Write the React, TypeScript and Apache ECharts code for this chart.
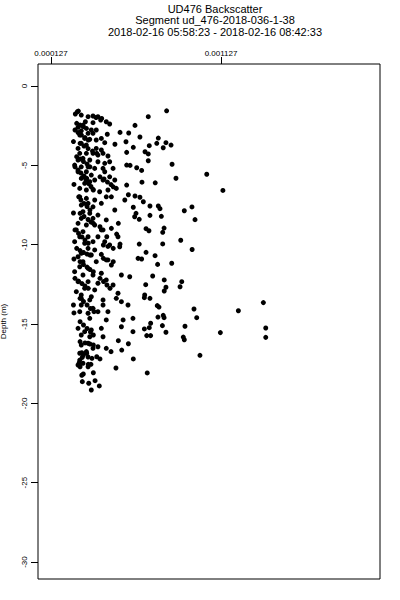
import React, { useEffect, useRef } from "react";
import * as echarts from "echarts";

const titleLines = [
  "UD476 Backscatter",
  "Segment ud_476-2018-036-1-38",
  "2018-02-16 05:58:23 - 2018-02-16 08:42:33",
];
const xTickValues = [0.000127, 0.001127];
const yTickValues = [0, -5, -10, -15, -20, -25, -30];
const xRange = [0.0000505, 0.002062];
const yRange = [-31.07, 1.39];
const yAxisName = "Depth (m)";

// [backscatter (x 1e-6), depth (m)]
const samples: [number, number][] = [
  [288, -1.58], [807, -1.56], [699, -1.93], [621, -2.48], [533, -2.92], [584, -2.96], [458, -3.04],
  [650, -3.21], [758, -3.28], [568, -3.51], [503, -3.67], [705, -3.76], [749, -3.61], [803, -3.57],
  [833, -3.72], [787, -3.89], [611, -3.86], [572, -4.18], [680, -4.14], [699, -4.28], [699, -4.71],
  [839, -4.93], [572, -4.98], [592, -5.0], [631, -5.15], [660, -5.32], [1043, -5.56], [862, -5.81],
  [740, -6.1], [662, -6.06], [572, -6.24], [1138, -6.58], [582, -6.85], [621, -6.93], [650, -7.01],
  [670, -7.29], [709, -7.56], [758, -7.56], [768, -7.73], [956, -7.62], [911, -7.86], [611, -7.64],
  [627, -8.02], [646, -8.4], [709, -8.15], [776, -8.21], [974, -8.42], [523, -8.65], [686, -8.99],
  [703, -9.12], [792, -8.95], [784, -9.22], [513, -9.33], [890, -9.72], [784, -9.95], [646, -9.96],
  [533, -9.96], [957, -10.3],
  [686, -10.48], [739, -10.69], [660, -10.9], [754, -11.24], [837, -11.17], [725, -11.97], [793, -12.22],
  [896, -12.33], [684, -12.52], [886, -12.65], [803, -12.68], [793, -12.92], [676, -13.34], [709, -13.38],
  [752, -13.84], [762, -13.93], [968, -14.05], [1229, -14.16], [1376, -13.65], [984, -14.6], [756, -14.56],
  [787, -14.45], [792, -14.6], [713, -14.95], [676, -15.31], [705, -15.23], [782, -15.1], [915, -15.14],
  [803, -15.52], [690, -15.73], [713, -15.73], [905, -15.82], [911, -15.99], [1123, -15.54], [1390, -15.25],
  [1390, -15.84], [1003, -16.97], [693, -18.08],
  [509, -17.77], [611, -17.2], [523, -16.05], [543, -16.64], [582, -16.24], [480, -16.74], [452, -16.53],
  [415, -17.2], [396, -17.06], [346, -17.54], [362, -17.54], [298, -17.69], [293, -17.44], [311, -17.1],
  [337, -16.84], [308, -16.81], [376, -18.07], [317, -18.15], [308, -18.23], [386, -18.57], [311, -18.63],
  [349, -18.73], [411, -18.9], [364, -19.16],
  [305, -13.38], [355, -13.48], [433, -13.48], [511, -13.38], [541, -13.59], [305, -13.8], [374, -14.01],
  [433, -13.8], [580, -13.8], [296, -14.22], [345, -14.32], [403, -14.22], [462, -14.22], [355, -14.64],
  [452, -14.74], [551, -14.74], [609, -14.64], [541, -15.17], [286, -15.27], [325, -15.48], [364, -15.37],
  [423, -15.27], [609, -15.48], [305, -15.69], [355, -15.8], [433, -15.8], [305, -16.32], [345, -16.21],
  [403, -16.43], [296, -16.84], [335, -16.74], [374, -16.53], [296, -17.27], [286, -17.58], [315, -17.47],
  [345, -17.69],
  [296, -6.98], [335, -7.08], [384, -7.18], [452, -6.98], [561, -7.18], [305, -7.5], [345, -7.39],
  [374, -7.61], [423, -7.39], [502, -7.81], [315, -7.92], [355, -8.02], [305, -8.34], [374, -8.34],
  [403, -8.13], [452, -8.44], [619, -8.24], [286, -8.65], [335, -8.76], [384, -8.76], [276, -9.07],
  [315, -9.18], [423, -9.07], [482, -8.97], [296, -9.5], [345, -9.5], [403, -9.5], [521, -9.5],
  [266, -9.81], [325, -9.91], [374, -9.81], [443, -9.81], [472, -10.02], [345, -10.23], [384, -10.33],
  [531, -10.13], [305, -10.54], [364, -10.65], [423, -10.61], [286, -10.76], [639, -10.86], [315, -11.07],
  [393, -11.07], [452, -10.96], [482, -11.28], [296, -11.39], [345, -11.49], [266, -11.7], [315, -11.91],
  [374, -11.91], [423, -11.8], [590, -12.02], [541, -11.91], [286, -12.33], [345, -12.33], [403, -12.43],
  [452, -12.22], [492, -12.54], [325, -12.75], [384, -12.85], [276, -12.96], [305, -13.17], [364, -13.28],
  [521, -13.06], [678, -13.17],
  [282, -1.62], [305, -1.83], [270, -1.76], [345, -1.93], [374, -1.89], [403, -1.93], [419, -2.14],
  [452, -2.25], [472, -2.39], [329, -2.25], [374, -2.31], [315, -2.46], [286, -2.6], [305, -2.82],
  [335, -2.67], [364, -2.77], [393, -2.77], [345, -2.98], [374, -2.98], [296, -3.09], [325, -3.3],
  [355, -3.36], [393, -3.4], [423, -3.3], [443, -3.57], [305, -3.61], [335, -3.72], [393, -3.93],
  [423, -4.03], [286, -3.93], [296, -4.24], [335, -4.24], [374, -4.24], [403, -4.35], [433, -4.24],
  [462, -4.41], [315, -4.56], [286, -4.66], [355, -4.66], [403, -4.77], [443, -4.87], [472, -4.77],
  [492, -5.19], [266, -4.98], [305, -5.09], [345, -5.09], [384, -5.19], [433, -5.19], [286, -5.4],
  [335, -5.4], [364, -5.61], [443, -5.4], [472, -5.72], [305, -5.82], [325, -6.13], [355, -6.03],
  [384, -5.92], [433, -5.92], [502, -5.92], [296, -6.45], [335, -6.55], [374, -6.51], [413, -6.66],
  [462, -6.55], [511, -6.45], [482, -6.98],
  [392, -1.98], [425, -2.04], [278, -2.35], [298, -2.46], [317, -2.56], [268, -2.77], [286, -2.93],
  [306, -3.09], [327, -3.25], [346, -3.4], [298, -3.61], [321, -3.78], [345, -3.94], [371, -4.1],
  [396, -4.24], [278, -4.45], [298, -4.6], [318, -4.76], [339, -4.91], [356, -5.09], [268, -5.09],
  [286, -5.29], [303, -5.48], [321, -5.67], [337, -5.82], [317, -5.72], [333, -5.92], [348, -6.14],
  [362, -6.33], [376, -6.55], [415, -5.72], [439, -5.86], [459, -6.05], [480, -6.21], [493, -6.35],
  [290, -6.98], [303, -7.18], [321, -7.4], [339, -7.59], [356, -7.81], [298, -8.02], [321, -8.22],
  [345, -8.41], [362, -8.57], [376, -8.65], [268, -9.07], [289, -9.29], [309, -9.51], [327, -9.7],
  [346, -9.91], [415, -8.87], [433, -9.07], [455, -9.5],
  [278, -10.23], [298, -10.37], [318, -10.49], [339, -10.59], [356, -10.65], [435, -10.02], [462, -10.11],
  [493, -10.23], [298, -11.07], [318, -11.25], [339, -11.41], [356, -11.56], [376, -11.7], [435, -10.86],
  [462, -10.96], [493, -11.07], [268, -12.12], [289, -12.29], [309, -12.45], [327, -12.6], [346, -12.75],
  [415, -12.12], [436, -12.32], [456, -12.54], [474, -12.75], [298, -13.38], [318, -13.58], [339, -13.8],
  [359, -14.02], [380, -14.22], [298, -14.85], [318, -15.06], [339, -15.28], [359, -15.5], [376, -15.69],
  [298, -16.11], [327, -16.19], [356, -16.26], [376, -16.32], [317, -16.95], [345, -17.08], [368, -17.16],
  [259, -3.5], [262, -6.2], [259, -8.0], [262, -10.9], [259, -13.8], [262, -14.3],
];

const FONT = "Liberation Sans";

export default function App() {
  const ref = useRef<HTMLDivElement>(null);
  useEffect(() => {
    if (!ref.current) return;
    const chart = echarts.init(ref.current, null, { renderer: "svg" });
    chart.setOption({
      animation: false,
      backgroundColor: "#ffffff",
      title: {
        text: titleLines.join("\n"),
        left: 210,
        top: -2,
        textAlign: "center",
        textStyle: { fontSize: 11, lineHeight: 11.6, fontWeight: "normal", fontFamily: FONT, color: "#000" },
      },
      grid: {
        left: 38,
        right: 20,
        top: 64,
        bottom: 21,
        show: true,
        borderColor: "#000",
        borderWidth: 1,
        backgroundColor: "transparent",
        containLabel: false,
        outerBoundsMode: "none",
      },
      xAxis: {
        type: "value",
        position: "top",
        min: xRange[0],
        max: xRange[1],
        splitLine: { show: false },
        axisLine: { show: false, onZero: false },
        axisTick: { show: true, length: 7, customValues: xTickValues, lineStyle: { color: "#000" } },
        axisLabel: {
          customValues: xTickValues,
          formatter: (v: number) => v.toFixed(6),
          fontSize: 8,
          fontFamily: FONT,
          color: "#000",
          margin: 7,
        },
      },
      yAxis: {
        type: "value",
        min: yRange[0],
        max: yRange[1],
        name: yAxisName,
        nameLocation: "middle",
        nameRotate: 90,
        nameGap: 31,
        nameTextStyle: { fontSize: 8, fontFamily: FONT, color: "#000" },
        splitLine: { show: false },
        axisLine: { show: false, onZero: false },
        axisTick: { show: true, length: 7, customValues: yTickValues, lineStyle: { color: "#000" } },
        axisLabel: {
          customValues: yTickValues,
          rotate: 90,
          fontSize: 8,
          fontFamily: FONT,
          color: "#000",
          margin: 10,
        },
      },
      series: [
        {
          type: "scatter",
          symbol: "circle",
          symbolSize: 5,
          itemStyle: { color: "#000", opacity: 1 },
          data: samples.map(([b, d]) => [b * 1e-6, d]),
        },
      ],
    });
    return () => chart.dispose();
  }, []);
  return <div ref={ref} style={{ position: "fixed", left: 0, top: 0, width: 400, height: 600 }} />;
}
